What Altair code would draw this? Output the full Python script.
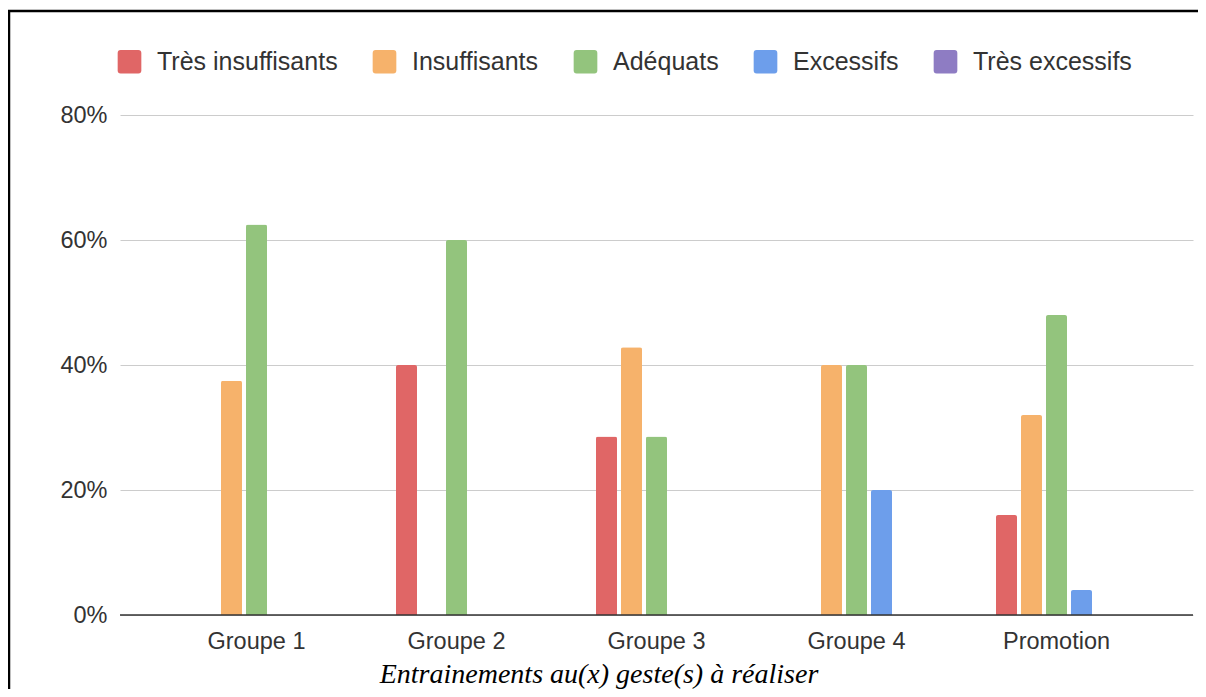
import altair as alt
import pandas as pd

groups = ["Groupe 1", "Groupe 2", "Groupe 3", "Groupe 4", "Promotion"]
series = ["Très insuffisants", "Insuffisants", "Adéquats", "Excessifs", "Très excessifs"]
colors = ["#E06666", "#F6B26B", "#93C47D", "#6D9EEB", "#8E7CC3"]

tres_insuffisants = [0.0, 0.40, 0.2857, 0.0, 0.16]
insuffisants = [0.375, 0.0, 0.4286, 0.40, 0.32]
adequats = [0.625, 0.60, 0.2857, 0.40, 0.48]
excessifs = [0.0, 0.0, 0.0, 0.20, 0.04]
tres_excessifs = [0.0, 0.0, 0.0, 0.0, 0.0]

y_ticks = [0, 0.2, 0.4, 0.6, 0.8]
title_text = "Entrainements au(x) geste(s) à réaliser"

values_by_series = [tres_insuffisants, insuffisants, adequats, excessifs, tres_excessifs]
rows = []
for s, vals in zip(series, values_by_series):
    for g, v in zip(groups, vals):
        rows.append({"groupe": g, "serie": s, "valeur": v})
df = pd.DataFrame(rows)

SANS = "Liberation Sans"
rounded_square = ("M-1,-0.75 Q-1,-1 -0.75,-1 L0.75,-1 Q1,-1 1,-0.75 L1,0.75 Q1,1 0.75,1 "
                  "L-0.75,1 Q-1,1 -1,0.75 Z")

bars = alt.Chart(df).transform_filter("datum.valeur > 0").mark_bar(
    cornerRadiusTopLeft=2, cornerRadiusTopRight=2
).encode(
    x=alt.X("groupe:N", sort=groups, title=None,
            scale=alt.Scale(paddingInner=0.375, paddingOuter=0.37),
            axis=alt.Axis(labelAngle=0, labelFont=SANS, labelFontSize=23.5, labelColor="#333333",
                          labelPadding=14, ticks=False, domain=False, grid=False)),
    xOffset=alt.XOffset("serie:N", sort=series,
                        scale=alt.Scale(domain=series, paddingInner=0.16, paddingOuter=0.08)),
    y=alt.Y("valeur:Q", title=None,
            scale=alt.Scale(domain=[0, 0.8], nice=False),
            axis=alt.Axis(values=y_ticks, format=".0%", labelFont=SANS, labelFontSize=23.5,
                          labelColor="#333333", labelPadding=13, ticks=False, domain=False,
                          gridColor="#CCCCCC", gridWidth=1)),
    color=alt.Color("serie:N", sort=series, title=None,
                    scale=alt.Scale(domain=series, range=colors),
                    legend=alt.Legend(orient="none", direction="horizontal", legendX=-3, legendY=-66,
                                      symbolType=rounded_square, symbolSize=560, symbolStrokeWidth=0,
                                      labelFont=SANS, labelFontSize=25, labelColor="#333333",
                                      labelOffset=15, columnPadding=34, padding=0,
                                      labelLimit=400)),
)

zero_line = alt.Chart(alt.Data(values=[{"z": 0}])).mark_rule(color="#333333", strokeWidth=1.5).encode(
    y=alt.Y("z:Q")
)

frame = alt.Chart(alt.Data(values=[{}])).mark_rect(
    fill=None, fillOpacity=0, stroke="black", strokeWidth=2.5
).encode(
    x=alt.value(-111), x2=alt.value(1200), y=alt.value(-104), y2=alt.value(700)
)

title_mark = alt.Chart(alt.Data(values=[{"t": title_text}])).mark_text(
    font="Liberation Serif", fontStyle="italic", fontSize=28, color="#000000",
    align="center", baseline="alphabetic"
).encode(
    text="t:N", x=alt.value(479), y=alt.value(568)
)

chart = alt.layer(bars, zero_line, frame, title_mark).properties(
    width=1073, height=500,
    padding={"left": 112, "top": 107, "right": 5, "bottom": 74},
    autosize=alt.AutoSizeParams(type="none"),
).configure(background="white").configure_view(stroke=None)

chart.save("out.html", embed_options={"renderer": "svg", "actions": False})
